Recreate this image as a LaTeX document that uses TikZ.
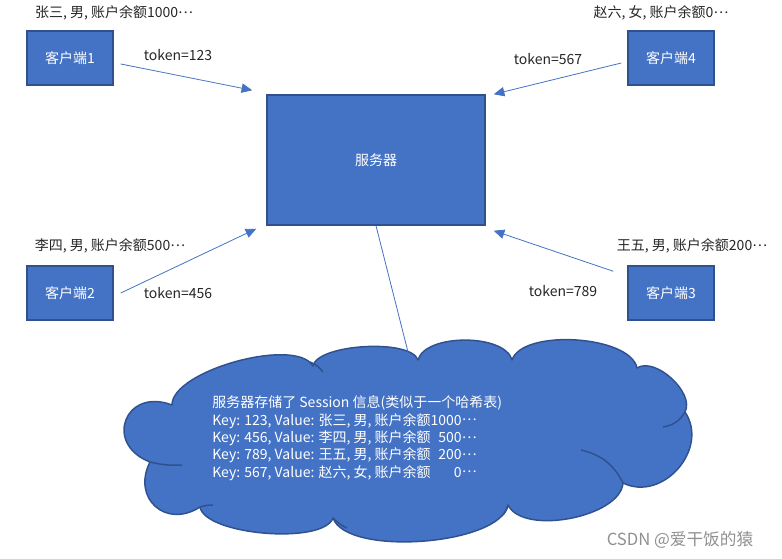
\documentclass[tikz,border=0pt]{standalone}
\usepackage{fontspec}
\setmainfont{Noto Sans CJK SC}
\usetikzlibrary{calc, positioning, arrows.meta}
\definecolor{boxblue}{HTML}{4472C4}
\definecolor{boxedge}{HTML}{2F528F}
\definecolor{inktext}{HTML}{262626}
\definecolor{markgray}{HTML}{909090}
\newcommand\mdots{\raisebox{0.32em}{…}}
\tikzset{
    clientbox/.style={rectangle, draw=boxedge, line width=1.1pt, fill=boxblue, text=white, minimum width=64.5pt, minimum height=40.5pt, font=\fontsize{10.5}{12}\selectfont},
    serverbox/.style={clientbox, minimum width=163.5pt, minimum height=97.5pt},
    cloudline/.style={draw=boxedge, line width=1.1pt, line join=round},
    puff/.style={bend left=75, looseness=#1},
    tokenarrow/.style={-{Triangle[length=8pt, width=7pt]}, line width=0.6pt, draw=boxblue},
    linkline/.style={line width=0.6pt, draw=boxblue},
    note/.style={font=\fontsize{10.5}{12}\selectfont, text=inktext, inner sep=0pt}
}
\begin{document}
\begin{tikzpicture}[x=0.75pt, y=-0.75pt]
    \useasboundingbox (0,0) rectangle (782,559);

    % clients and server
    \node[clientbox] (c1) at (70,58) {客户端1};
    \node[clientbox] (c4) at (671,58) {客户端4};
    \node[clientbox] (c2) at (70,293) {客户端2};
    \node[clientbox] (c3) at (671,293) {客户端3};
    \node[serverbox] (server) at (376,160) {服务器};

    % user info
    \node[note] (u1) at (114,13) {张三, 男, 账户余额1000\mdots};
    \node[note] (u4) at (661,13) {赵六, 女, 账户余额0\mdots};
    \node[note] (u2) at (110,246) {李四, 男, 账户余额500\mdots};
    \node[note] (u3) at (692,246) {王五, 男, 账户余额200\mdots};

    % requests with token
    \draw[tokenarrow] ([shift={(7,6)}]c1.east) -- ([shift={(-14,-4)}]server.north west);
    \draw[tokenarrow] ([shift={(-6,5)}]c4.west) -- ([shift={(8,0)}]server.north east);
    \draw[tokenarrow] ([shift={(7,0)}]c2.east) -- ([shift={(-10,3)}]server.south west);
    \draw[tokenarrow] ([shift={(-14,6)}]c3.north west) -- ([shift={(8,5)}]server.south east);
    \node[note] (t1) at (178,55) {token=123};
    \node[note] (t4) at (548,59) {token=567};
    \node[note] (t2) at (178,293) {token=456};
    \node[note] (t3) at (563,291) {token=789};

    % session store (cloud)
    \path[cloudline, fill=boxblue] (172,405) to[puff=0.6] (313,366) to[puff=0.55] (418,360)
        to[puff=0.75] (512,360) to[puff=0.68] (637,368) to[puff=0.85] (685,412)
        to[puff=1.2] (623,483) to[puff=0.75] (508,505) to[puff=0.6] (333,518)
        to[puff=0.55] (200,507) to[puff=1.55] (150,462)
        to[bend left=90, looseness=2.1] (172,405) -- cycle;
    \draw[cloudline] (623,483) to[bend right=25] (581,450);
    \draw[cloudline] (685,412) to[bend left=25] (663,427);
    \draw[cloudline] (333,518) to[bend right=10] (347,528);
    \draw[cloudline] (310,362) to[bend left=15] (323,372);
    \draw[cloudline] (508,505) to[bend left=10] (503,515);
    \draw[cloudline] (150,462) to[bend right=8] (182,465);
    \draw[cloudline] (200,507) to[bend left=8] (213,505);
    \coordinate (storetop) at (408,352);
    \draw[linkline] (server.south) -- (storetop);
    \node[note, text=white, anchor=west, font=\fontsize{10.5}{13.1}\selectfont] (info) at (212,439) {%
        \begin{tabular}{@{}l@{}r@{}}
        \multicolumn{2}{@{}l@{}}{\rlap{服务器存储了 Session 信息(类似于一个哈希表)}}\\
        Key: 123, Value: 张三, 男, 账户余额 & 1000\mdots\\
        Key: 456, Value: 李四, 男, 账户余额 & 500\mdots\\
        Key: 789, Value: 王五, 男, 账户余额 & 200\mdots\\
        Key: 567, Value: 赵六, 女, 账户余额 & 0\mdots
        \end{tabular}};

    \node[note, text=markgray, font=\fontsize{12.5}{14}\selectfont] (mark) at (680,540) {CSDN @爱干饭的猿};
\end{tikzpicture}
\end{document}
